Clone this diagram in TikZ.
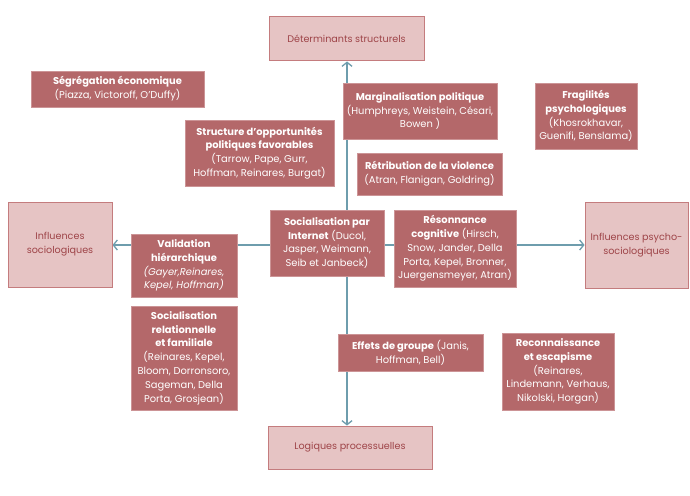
\documentclass[tikz,border=0pt]{standalone}
\usepackage{fontspec}
\setmainfont{Poppins}
\usetikzlibrary{arrows.meta,backgrounds}
\definecolor{dkfill}{HTML}{B4686A}
\definecolor{dkline}{HTML}{CC9496}
\definecolor{ltfill}{HTML}{E6C4C4}
\definecolor{ltline}{HTML}{C47C7E}
\definecolor{lttext}{HTML}{9E4448}
\definecolor{axcol}{HTML}{6E9DAD}
\begin{document}
\begin{tikzpicture}[x=1pt,y=-1pt,
  every node/.style={font=\fontsize{9.9}{13.8}\selectfont, align=center, inner sep=0pt},
  dk/.style 2 args={draw=dkline, line width=1pt, fill=dkfill, text=white, minimum width=#1pt, minimum height=#2pt},
  lt/.style 2 args={draw=ltline, line width=1pt, fill=ltfill, text=lttext, minimum width=#1pt, minimum height=#2pt, font=\fontsize{9.6}{13.8}\selectfont},
  ax/.style={draw=axcol, line width=1.3pt, -{Straight Barb[length=4pt,width=10pt,line width=1.3pt]}}]
\useasboundingbox (0,0) rectangle (690,495);
\node[lt={155}{44}] (det) at (346.5,39) {Déterminants structurels};
\node[lt={164}{43}] (log) at (350,447.5) {Logiques processuelles};
\node[lt={104}{85}] (infs) at (60,244.5) {Influences\\sociologiques};
\node[lt={103}{86}] (infp) at (636.5,245) {Influences psycho-\\sociologiques};
\node[dk={173}{36}] (seg) at (117.5,89) {\textbf{Ségrégation économique}\\(Piazza, Victoroff, O’Duffy)};
\node[dk={149}{66}] (stru) at (259.5,153) {\textbf{Structure d’opportunités}\\\textbf{politiques favorables}\\(Tarrow, Pape, Gurr,\\Hoffman, Reinares, Burgat)};
\node[dk={154}{56}] (marg) at (420,111) {\textbf{Marginalisation politique}\\(Humphreys, Weistein, Césari,\\Bowen )};
\node[dk={145}{42}] (retr) at (429.5,174) {\textbf{Rétribution de la violence}\\(Atran, Flanigan, Goldring)};
\node[dk={102}{66}] (frag) at (586,116) {\textbf{Fragilités}\\\textbf{psychologiques}\\(Khosrokhavar,\\Guenifi, Benslama)};
\node[dk={106}{63}] (valid) at (184,265.5) {\textbf{Validation}\\\textbf{hiérarchique}\\\textit{(Gayer,Reinares,}\\\textit{Kepel, Hoffman)}};
\node[dk={114}{66}] (sint) at (327,243) {\textbf{Socialisation par}\\\textbf{Internet} (Ducol,\\Jasper, Weimann,\\Seib et Janbeck)};
\node[dk={122}{77}] (reso) at (455,248.5) {\textbf{Résonnance}\\\textbf{cognitive} (Hirsch,\\Snow, Jander, Della\\Porta, Kepel, Bronner,\\Juergensmeyer, Atran)};
\node[dk={106}{104}] (srel) at (184,358) {\textbf{Socialisation}\\\textbf{relationnelle}\\\textbf{et familiale}\\(Reinares, Kepel,\\Bloom, Dorronsoro,\\Sageman, Della\\Porta, Grosjean)};
\node[dk={145}{37}] (eff) at (410.5,352.5) {\textbf{Effets de groupe} (Janis,\\Hoffman, Bell)};
\node[dk={112}{77}] (reco) at (558,371.5) {\textbf{Reconnaissance}\\\textbf{et escapisme}\\(Reinares,\\Lindemann, Verhaus,\\Nikolski, Horgan)};
\coordinate (o) at (347,245);
\begin{scope}[on background layer]
\fill[white] (0,0) rectangle (690,495);
\draw[ax] (o) -- (det.south -| o);
\draw[ax] (o) -- (log.north -| o);
\draw[ax] (o) -- (infs.east |- o);
\draw[ax] (o) -- (infp.west |- o);
\end{scope}
\end{tikzpicture}
\end{document}
